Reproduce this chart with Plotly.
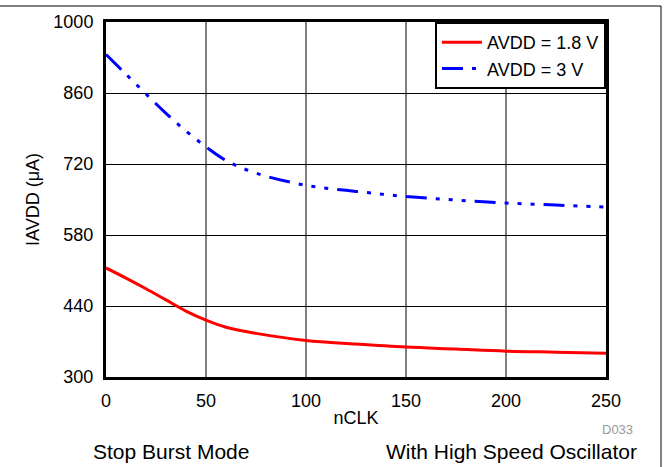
import plotly.graph_objects as go

# Data
nclk = [0, 10, 20, 30, 40, 50, 60, 75, 100, 125, 150, 175, 200, 225, 250]
iavdd_18v = [515, 495, 474, 452, 430, 412, 398, 386, 372, 365, 359, 355, 351, 349, 347]
iavdd_3v = [936, 897, 858, 820, 785, 754, 727, 702, 678, 666, 656, 649, 643, 639, 635]

x_ticks = [0, 50, 100, 150, 200, 250]
y_ticks = [300, 440, 580, 720, 860, 1000]

FONT = "Arial, 'Liberation Sans', sans-serif"

fig = go.Figure()
fig.add_trace(go.Scatter(
    x=nclk, y=iavdd_18v, mode="lines", name="AVDD = 1.8 V",
    line=dict(color="#ff0000", width=3, shape="spline"),
))
fig.add_trace(go.Scatter(
    x=nclk, y=iavdd_3v, mode="lines", name="AVDD = 3 V",
    line=dict(color="#0000ff", width=3, shape="spline",
              dash="21px,9px,4px,9px,4px,9px,4px,9px"),
))

fig.update_layout(
    width=665, height=467,
    margin=dict(l=106, r=59, t=22, b=90),
    paper_bgcolor="white", plot_bgcolor="white",
    font=dict(family=FONT, size=18, color="black"),
    showlegend=True,
    legend=dict(
        x=1, y=1, xanchor="right", yanchor="top",
        bgcolor="white", bordercolor="black", borderwidth=2,
        font=dict(family=FONT, size=18, color="black"),
        tracegroupgap=0, itemwidth=40,
    ),
    xaxis=dict(
        range=[0, 250], tickvals=x_ticks, ticktext=[str(v) for v in x_ticks],
        showgrid=True, gridcolor="#808080", gridwidth=1.5,
        showline=True, linecolor="black", linewidth=3, mirror=True,
        ticks="", ticklabelstandoff=5, zeroline=False,
        title=dict(text="nCLK", font=dict(family=FONT, size=18), standoff=2),
        tickfont=dict(family=FONT, size=18),
    ),
    yaxis=dict(
        range=[300, 1000], tickvals=y_ticks, ticktext=[str(v) for v in y_ticks],
        showgrid=True, gridcolor="black", gridwidth=1,
        showline=True, linecolor="black", linewidth=3, mirror=True,
        ticks="", ticklabelstandoff=6, zeroline=False,
        title=dict(text="IAVDD (\u03bcA)", font=dict(family=FONT, size=18), standoff=10),
        tickfont=dict(family=FONT, size=18),
    ),
    annotations=[
        dict(text="D033", xref="paper", yref="paper",
             x=(635 - 106) / 500, y=(377 - 429) / 355, xanchor="right", yanchor="middle",
             showarrow=False, font=dict(family=FONT, size=13, color="#999999")),
        dict(text="Stop Burst Mode", xref="paper", yref="paper",
             x=(91 - 106) / 500, y=(377 - 451) / 355, xanchor="left", yanchor="middle",
             showarrow=False, font=dict(family=FONT, size=21, color="black")),
        dict(text="With High Speed Oscillator", xref="paper", yref="paper",
             x=(639 - 106) / 500, y=(377 - 451) / 355, xanchor="right", yanchor="middle",
             showarrow=False, font=dict(family=FONT, size=21, color="black")),
    ],
    shapes=[
        dict(type="line", xref="paper", yref="paper",
             x0=-106 / 500, x1=(661 - 106) / 500, y0=(377 - 6) / 355, y1=(377 - 6) / 355,
             line=dict(color="black", width=1)),
        dict(type="line", xref="paper", yref="paper",
             x0=(661 - 106) / 500, x1=(661 - 106) / 500, y0=(377 - 6) / 355, y1=(377 - 470) / 355,
             line=dict(color="black", width=1)),
    ],
)

fig.write_html(
    "out.html",
    config={"displayModeBar": False},
    post_script="document.body.style.margin='0';document.body.style.overflow='hidden';",
)
